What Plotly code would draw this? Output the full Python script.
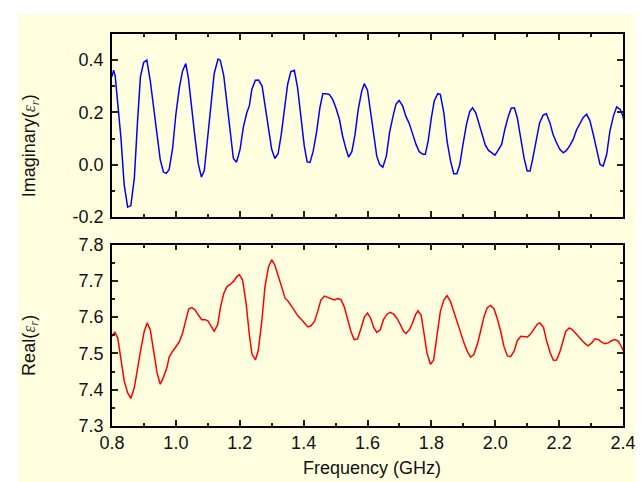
import plotly.graph_objects as go
from plotly.subplots import make_subplots

# ---- data ----
freq_imag = [0.800, 0.805, 0.810, 0.820, 0.828, 0.838, 0.849, 0.859, 0.870, 0.880, 0.889, 0.899, 0.909,
             0.920, 0.930, 0.941, 0.951, 0.961, 0.970, 0.979, 0.990, 1.000, 1.011, 1.021, 1.031, 1.039,
             1.049, 1.060, 1.070, 1.080, 1.089, 1.099, 1.110, 1.120, 1.132, 1.139, 1.150, 1.160, 1.170,
             1.180, 1.190, 1.201, 1.211, 1.222, 1.230, 1.238, 1.249, 1.259, 1.270, 1.280, 1.290, 1.300,
             1.310, 1.320, 1.330, 1.341, 1.350, 1.360, 1.371, 1.381, 1.392, 1.402, 1.411, 1.420, 1.430,
             1.441, 1.451, 1.460, 1.470, 1.480, 1.491, 1.501, 1.512, 1.522, 1.533, 1.541, 1.551, 1.561,
             1.571, 1.582, 1.590, 1.600, 1.610, 1.619, 1.629, 1.638, 1.648, 1.659, 1.669, 1.679, 1.689,
             1.699, 1.710, 1.720, 1.731, 1.741, 1.752, 1.762, 1.773, 1.781, 1.790, 1.800, 1.809, 1.820,
             1.828, 1.839, 1.849, 1.860, 1.870, 1.880, 1.889, 1.899, 1.910, 1.920, 1.929, 1.939, 1.950,
             1.959, 1.969, 1.979, 1.990, 1.999, 2.009, 2.020, 2.030, 2.041, 2.050, 2.060, 2.069, 2.080,
             2.090, 2.100, 2.109, 2.118, 2.129, 2.139, 2.150, 2.160, 2.171, 2.181, 2.192, 2.202, 2.213,
             2.223, 2.233, 2.244, 2.254, 2.265, 2.275, 2.286, 2.296, 2.307, 2.317, 2.328, 2.338, 2.349,
             2.359, 2.370, 2.380, 2.391, 2.400, 2.409]
imag_eps = [0.337, 0.362, 0.340, 0.218, 0.103, -0.075, -0.162, -0.156, -0.050, 0.167, 0.336, 0.391, 0.400,
            0.320, 0.218, 0.103, 0.020, -0.028, -0.033, -0.018, 0.065, 0.193, 0.295, 0.359, 0.387, 0.333,
            0.218, 0.103, 0.004, -0.047, -0.022, 0.091, 0.231, 0.349, 0.404, 0.400, 0.340, 0.231, 0.116,
            0.024, 0.010, 0.059, 0.142, 0.199, 0.225, 0.289, 0.323, 0.324, 0.301, 0.218, 0.123, 0.059,
            0.024, 0.042, 0.116, 0.218, 0.308, 0.356, 0.361, 0.295, 0.180, 0.072, 0.011, 0.009, 0.052,
            0.129, 0.218, 0.272, 0.272, 0.269, 0.250, 0.218, 0.174, 0.110, 0.059, 0.029, 0.050, 0.116,
            0.212, 0.282, 0.310, 0.285, 0.199, 0.110, 0.033, 0.001, -0.009, 0.033, 0.123, 0.180, 0.231,
            0.246, 0.225, 0.186, 0.157, 0.119, 0.078, 0.050, 0.040, 0.040, 0.091, 0.180, 0.244, 0.272,
            0.269, 0.199, 0.091, 0.014, -0.034, -0.034, 0.001, 0.078, 0.155, 0.203, 0.218, 0.199, 0.155,
            0.110, 0.075, 0.055, 0.045, 0.037, 0.055, 0.078, 0.135, 0.186, 0.216, 0.218, 0.180, 0.103,
            0.027, -0.024, -0.024, 0.027, 0.103, 0.161, 0.190, 0.195, 0.161, 0.116, 0.084, 0.059, 0.046,
            0.055, 0.072, 0.097, 0.132, 0.155, 0.180, 0.193, 0.170, 0.116, 0.065, 0.001, -0.005, 0.040,
            0.129, 0.186, 0.221, 0.212, 0.186, 0.129]

freq_real = [0.800, 0.809, 0.818, 0.828, 0.838, 0.849, 0.859, 0.870, 0.880, 0.891, 0.901, 0.910, 0.920,
             0.930, 0.941, 0.951, 0.961, 0.972, 0.979, 0.990, 1.000, 1.011, 1.021, 1.031, 1.040, 1.050,
             1.060, 1.071, 1.081, 1.092, 1.100, 1.110, 1.120, 1.131, 1.140, 1.150, 1.160, 1.170, 1.181,
             1.190, 1.199, 1.209, 1.220, 1.230, 1.238, 1.249, 1.258, 1.269, 1.279, 1.290, 1.300, 1.310,
             1.321, 1.331, 1.342, 1.352, 1.363, 1.373, 1.383, 1.394, 1.404, 1.413, 1.423, 1.434, 1.444,
             1.454, 1.465, 1.475, 1.486, 1.496, 1.506, 1.517, 1.527, 1.538, 1.548, 1.558, 1.569, 1.580,
             1.590, 1.600, 1.610, 1.619, 1.629, 1.640, 1.650, 1.661, 1.671, 1.682, 1.692, 1.703, 1.713,
             1.720, 1.731, 1.739, 1.750, 1.758, 1.768, 1.776, 1.786, 1.797, 1.807, 1.818, 1.828, 1.839,
             1.849, 1.860, 1.870, 1.881, 1.891, 1.902, 1.912, 1.923, 1.933, 1.944, 1.954, 1.965, 1.975,
             1.985, 1.996, 2.006, 2.017, 2.027, 2.038, 2.048, 2.059, 2.069, 2.080, 2.090, 2.101, 2.111,
             2.121, 2.132, 2.140, 2.151, 2.161, 2.172, 2.182, 2.192, 2.203, 2.213, 2.221, 2.232, 2.242,
             2.253, 2.263, 2.273, 2.284, 2.291, 2.302, 2.312, 2.323, 2.333, 2.344, 2.354, 2.364, 2.375,
             2.385, 2.396, 2.408]
real_eps = [7.547, 7.559, 7.543, 7.479, 7.425, 7.391, 7.376, 7.406, 7.461, 7.515, 7.561, 7.584, 7.565,
            7.506, 7.447, 7.415, 7.434, 7.461, 7.490, 7.506, 7.520, 7.532, 7.556, 7.588, 7.622, 7.626,
            7.620, 7.605, 7.593, 7.593, 7.590, 7.575, 7.561, 7.579, 7.629, 7.665, 7.684, 7.690, 7.699,
            7.711, 7.717, 7.702, 7.638, 7.552, 7.499, 7.482, 7.508, 7.588, 7.684, 7.738, 7.758, 7.743,
            7.715, 7.684, 7.652, 7.643, 7.629, 7.615, 7.602, 7.593, 7.584, 7.573, 7.576, 7.588, 7.615,
            7.647, 7.658, 7.654, 7.649, 7.647, 7.651, 7.648, 7.629, 7.595, 7.561, 7.538, 7.540, 7.570,
            7.600, 7.611, 7.597, 7.572, 7.558, 7.565, 7.593, 7.608, 7.613, 7.608, 7.597, 7.579, 7.561,
            7.555, 7.565, 7.579, 7.606, 7.617, 7.605, 7.561, 7.502, 7.470, 7.481, 7.552, 7.615, 7.647,
            7.659, 7.643, 7.615, 7.581, 7.556, 7.529, 7.506, 7.490, 7.497, 7.525, 7.561, 7.602, 7.626,
            7.632, 7.623, 7.597, 7.561, 7.520, 7.493, 7.491, 7.506, 7.535, 7.547, 7.547, 7.545, 7.554,
            7.568, 7.581, 7.584, 7.572, 7.534, 7.502, 7.481, 7.482, 7.506, 7.538, 7.561, 7.570, 7.565,
            7.554, 7.543, 7.534, 7.525, 7.521, 7.529, 7.540, 7.538, 7.531, 7.527, 7.529, 7.535, 7.538,
            7.534, 7.517, 7.493]

x_ticks = [0.8, 1.0, 1.2, 1.4, 1.6, 1.8, 2.0, 2.2, 2.4]
x_tick_text = ["0.8", "1.0", "1.2", "1.4", "1.6", "1.8", "2.0", "2.2", "2.4"]
imag_ticks = [-0.2, 0.0, 0.2, 0.4]
imag_tick_text = ["-0.2", "0.0", "0.2", "0.4"]
real_ticks = [7.3, 7.4, 7.5, 7.6, 7.7, 7.8]
real_tick_text = ["7.3", "7.4", "7.5", "7.6", "7.7", "7.8"]

BG = "#FFFFE0"
FONT = "Arial, Liberation Sans, sans-serif"

fig = make_subplots(rows=2, cols=1, shared_xaxes=False, vertical_spacing=0.07)
fig.add_trace(go.Scatter(x=freq_imag, y=imag_eps, mode="lines",
                         line=dict(color="#0000FF", width=1.5), showlegend=False), row=1, col=1)
fig.add_trace(go.Scatter(x=freq_real, y=real_eps, mode="lines",
                         line=dict(color="#FF0000", width=1.5), showlegend=False), row=2, col=1)

axis_common = dict(showline=True, linecolor="black", linewidth=1.5, mirror="ticks",
                   ticks="inside", ticklen=6, tickwidth=1.5, tickcolor="#222",
                   showgrid=False, zeroline=False,
                   tickfont=dict(family=FONT, size=18, color="#111"))

fig.update_xaxes(range=[0.8, 2.4], tickvals=x_ticks, ticktext=x_tick_text,
                 minor=dict(dtick=0.1, tick0=0.8, ticks="inside", ticklen=3.5, tickwidth=1.5,
                            tickcolor="#222", showgrid=False),
                 **axis_common)
fig.update_xaxes(showticklabels=False, row=1, col=1)
fig.update_yaxes(range=[-0.2, 0.5], tickvals=imag_ticks, ticktext=imag_tick_text,
                 minor=dict(dtick=0.1, tick0=-0.2, ticks="inside", ticklen=3.5, tickwidth=1.5,
                            tickcolor="#222", showgrid=False),
                 ticklabelstandoff=3, row=1, col=1, **axis_common)
fig.update_yaxes(range=[7.3, 7.8], tickvals=real_ticks, ticktext=real_tick_text,
                 minor=dict(dtick=0.05, tick0=7.3, ticks="inside", ticklen=3.5, tickwidth=1.5,
                            tickcolor="#222", showgrid=False),
                 ticklabelstandoff=3, row=2, col=1, **axis_common)

fig.update_layout(xaxis=dict(domain=[0, 1]), xaxis2=dict(domain=[0, 1]),
                  yaxis=dict(domain=[0.533, 1.0]), yaxis2=dict(domain=[0.0, 0.463]))

eps_html = "<span style='font-family:Liberation Serif, DejaVu Serif, serif; color:#444'><i>ε<sub>r</sub></i></span>"
annots = [
    dict(text="Imaginary(" + eps_html + ")", x=-0.16, y=0.714, textangle=-90, size=18),
    dict(text="Real(" + eps_html + ")", x=-0.16, y=0.205, textangle=-90, size=18),
    dict(text="Frequency (GHz)", x=0.508, y=-0.108, textangle=0, size=18),
]
for a in annots:
    size = a.pop("size")
    fig.add_annotation(xref="paper", yref="paper", showarrow=False, xanchor="center", yanchor="middle",
                       font=dict(family=FONT, size=size, color="#111"), **a)

fig.add_shape(type="rect", xref="paper", yref="paper", x0=-0.184, x1=1.06, y0=-0.17, y1=1.051,
              fillcolor=BG, line=dict(width=0), layer="below")

fig.update_layout(width=643, height=482, margin=dict(l=104, r=28, t=26, b=64),
                  paper_bgcolor="white", plot_bgcolor=BG)

fig.write_html("out.html")
